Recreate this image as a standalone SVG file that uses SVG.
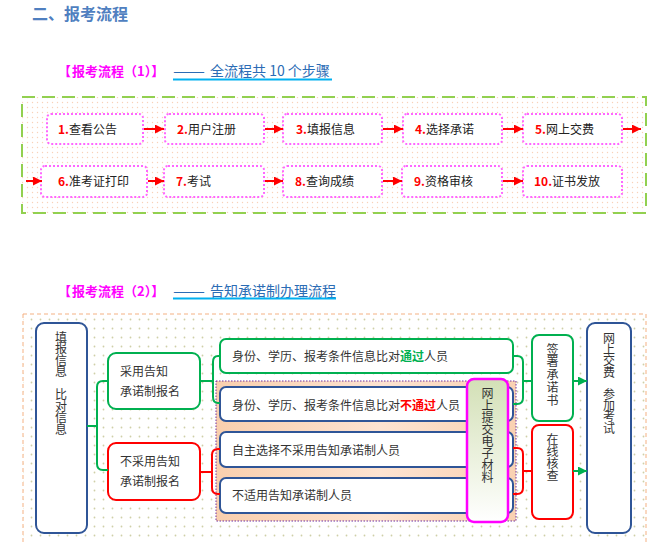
<svg xmlns="http://www.w3.org/2000/svg" width="670" height="543" viewBox="0 0 670 543">
<defs>
  <pattern id="dotsA" width="5" height="5" patternUnits="userSpaceOnUse">
    <rect width="5" height="5" fill="#ffffff"/>
    <circle cx="2.5" cy="2.5" r="0.7" fill="#f9d2b8"/>
  </pattern>
  <pattern id="dotsB" width="9" height="9" patternUnits="userSpaceOnUse">
    <rect width="9" height="9" fill="#ffffff"/>
    <circle cx="4.5" cy="4.5" r="0.9" fill="#cfcfa8"/>
  </pattern>
  <linearGradient id="peach" x1="0" y1="0" x2="1" y2="0">
    <stop offset="0" stop-color="#f9cfae"/>
    <stop offset="0.55" stop-color="#fde3d1"/>
    <stop offset="1" stop-color="#f9d1b2"/>
  </linearGradient>
  <linearGradient id="mag" x1="0" y1="0" x2="0" y2="1">
    <stop offset="0" stop-color="#d3e0b6"/>
    <stop offset="1" stop-color="#ffffff"/>
  </linearGradient>
  <marker id="ar" markerUnits="userSpaceOnUse" markerWidth="9" markerHeight="9" refX="9" refY="4.5" orient="auto">
    <path d="M0,0 L9,4.5 L0,9 z" fill="#ff0000"/>
  </marker>
  <marker id="ag" markerUnits="userSpaceOnUse" markerWidth="9" markerHeight="9" refX="9" refY="4.5" orient="auto">
    <path d="M0,0 L9,4.5 L0,9 z" fill="#00b050"/>
  </marker>
</defs>
<style>
  text { font-family: "Noto Sans CJK SC", "Noto Sans", sans-serif; }
  .step { fill: #ffffff; stroke: #ff66ff; stroke-width: 2; stroke-dasharray: 2 2; }
  .st { font-size: 12px; fill: #222222; }
  .num { fill: #ff0000; font-weight: bold; }
  .ra { stroke: #ff0000; stroke-width: 2; fill: none; marker-end: url(#ar); }
  .t2 { font-size: 12px; fill: #333333; }
  .vt { font-size: 12px; fill: #333333; writing-mode: vertical-rl; }
  .bb { fill: #ffffff; stroke: #2f5597; stroke-width: 2; }
  .gb { fill: #ffffff; stroke: #00b050; stroke-width: 2; }
  .rb { fill: #ffffff; stroke: #ff0000; stroke-width: 2; }
  .hd { font-size: 13px; font-weight: bold; fill: #ff00ff; }
  .lk { font-size: 14px; fill: #2b6cb5; }
</style>

<!-- Heading -->
<text x="32" y="20" font-size="16" font-weight="bold" fill="#4f7fc0">二、报考流程</text>

<!-- Section 1 title -->
<g id="title1">
  <text class="hd" x="58" y="76">【</text>
  <text class="hd" x="72" y="76">报考流程</text>
  <text class="hd" x="124" y="76">（1）】</text>
  <text class="lk" x="173" y="76" textLength="32" lengthAdjust="spacingAndGlyphs">——</text>
  <text class="lk" x="210" y="76">全流程共 10 个步骤</text>
  <line x1="173" y1="79.5" x2="332" y2="79.5" stroke="#00b0f0" stroke-width="2"/>
</g>

<!-- Section 1 frame -->
<rect x="22" y="97" width="624" height="116" fill="url(#dotsA)" stroke="#92d050" stroke-width="2" stroke-dasharray="13 7"/>

<g id="s1">
  <g id="step1"><rect class="step" x="47" y="114" width="96" height="30" rx="4"/><text class="st" x="58" y="133.5"><tspan class="num">1.</tspan>查看公告</text></g>
  <g id="step2"><rect class="step" x="165" y="114" width="99" height="30" rx="4"/><text class="st" x="177" y="133.5"><tspan class="num">2.</tspan>用户注册</text></g>
  <g id="step3"><rect class="step" x="283" y="114" width="99" height="30" rx="4"/><text class="st" x="296" y="133.5"><tspan class="num">3.</tspan>填报信息</text></g>
  <g id="step4"><rect class="step" x="403" y="114" width="99" height="30" rx="4"/><text class="st" x="415" y="133.5"><tspan class="num">4.</tspan>选择承诺</text></g>
  <g id="step5"><rect class="step" x="523" y="114" width="99" height="30" rx="4"/><text class="st" x="535" y="133.5"><tspan class="num">5.</tspan>网上交费</text></g>
  <g id="step6"><rect class="step" x="41" y="166" width="106" height="31" rx="4"/><text class="st" x="58" y="185.5"><tspan class="num">6.</tspan>准考证打印</text></g>
  <g id="step7"><rect class="step" x="164" y="166" width="100" height="31" rx="4"/><text class="st" x="176" y="185.5"><tspan class="num">7.</tspan>考试</text></g>
  <g id="step8"><rect class="step" x="283" y="166" width="99" height="31" rx="4"/><text class="st" x="295" y="185.5"><tspan class="num">8.</tspan>查询成绩</text></g>
  <g id="step9"><rect class="step" x="402" y="166" width="100" height="31" rx="4"/><text class="st" x="414" y="185.5"><tspan class="num">9.</tspan>资格审核</text></g>
  <g id="step10"><rect class="step" x="523" y="166" width="99" height="31" rx="4"/><text class="st" x="534" y="185.5"><tspan class="num">10.</tspan>证书发放</text></g>
</g>

<g id="s1-connectors">
  <line class="ra" x1="144" y1="129" x2="164" y2="129"/>
  <line class="ra" x1="265" y1="129" x2="283" y2="129"/>
  <line class="ra" x1="383" y1="129" x2="403" y2="129"/>
  <line class="ra" x1="503" y1="129" x2="523" y2="129"/>
  <line class="ra" x1="623" y1="129" x2="641" y2="129"/>
  <line class="ra" x1="26" y1="181" x2="42" y2="181"/>
  <line class="ra" x1="148" y1="181" x2="164" y2="181"/>
  <line class="ra" x1="265" y1="181" x2="283" y2="181"/>
  <line class="ra" x1="383" y1="181" x2="402" y2="181"/>
  <line class="ra" x1="503" y1="181" x2="523" y2="181"/>
</g>

<!-- Section 2 title -->
<g id="title2">
  <text class="hd" x="58" y="295.5">【</text>
  <text class="hd" x="72" y="295.5">报考流程</text>
  <text class="hd" x="124" y="295.5">（2）】</text>
  <text class="lk" x="173" y="295.5" textLength="32" lengthAdjust="spacingAndGlyphs">——</text>
  <text class="lk" x="210" y="295.5">告知承诺制办理流程</text>
  <line x1="173" y1="298.5" x2="336" y2="298.5" stroke="#00b0f0" stroke-width="2"/>
</g>

<!-- Section 2 background -->
<rect x="23" y="314" width="623" height="240" fill="url(#dotsB)" stroke="#f4b183" stroke-width="1" stroke-dasharray="4 3"/>

<g id="s2">
  <g id="fill-info">
    <rect class="bb" x="36" y="323" width="51" height="210" rx="8"/>
    <text class="vt" x="61" y="331" letter-spacing="-0.5">填报信息　比对信息</text>
  </g>
  <g id="adopt">
    <rect class="gb" x="108" y="353" width="92" height="56" rx="8"/>
    <text class="t2" x="120" y="376">采用告知</text>
    <text class="t2" x="120" y="395.5">承诺制报名</text>
  </g>
  <g id="not-adopt">
    <rect class="rb" x="108" y="443" width="92" height="57" rx="8"/>
    <text class="t2" x="120" y="466">不采用告知</text>
    <text class="t2" x="120" y="486">承诺制报名</text>
  </g>
  <g id="pass">
    <rect class="gb" x="220" y="339" width="293" height="34" rx="6"/>
    <text class="t2" x="232" y="361">身份、学历、报考条件信息比对<tspan fill="#00b050" font-weight="bold">通过</tspan>人员</text>
  </g>
  <rect x="216" y="381" width="300" height="140" fill="url(#peach)" stroke="#7030a0" stroke-width="1" stroke-dasharray="1.5 1.5"/>
  <g id="fail">
    <rect class="bb" x="220" y="387" width="293" height="34" rx="6"/>
    <text class="t2" x="232" y="410">身份、学历、报考条件信息比对<tspan fill="#ff0000" font-weight="bold">不通过</tspan>人员</text>
  </g>
  <g id="self-choice">
    <rect class="bb" x="220" y="432" width="293" height="35" rx="6"/>
    <text class="t2" x="232" y="454.5">自主选择不采用告知承诺制人员</text>
  </g>
  <g id="not-apply">
    <rect class="bb" x="220" y="478" width="293" height="35" rx="6"/>
    <text class="t2" x="232" y="500">不适用告知承诺制人员</text>
  </g>
  <g id="submit">
    <rect x="467" y="379" width="41" height="143" rx="7" fill="url(#mag)" stroke="#ff00ff" stroke-width="2.5"/>
    <text class="vt" x="487.5" y="387.5">网上提交电子材料</text>
  </g>
  <g id="sign">
    <rect class="gb" x="532" y="335" width="41" height="86" rx="7"/>
    <text class="vt" x="552.5" y="343" letter-spacing="0.9">签署承诺书</text>
  </g>
  <g id="verify">
    <rect class="rb" x="532" y="425" width="41" height="94" rx="7"/>
    <text class="vt" x="552.5" y="433.5">在线核查</text>
  </g>
  <g id="pay-exam">
    <rect class="bb" x="587" y="323" width="44" height="210" rx="8"/>
    <text class="vt" x="609" y="332.5" letter-spacing="-0.8">网上交费　参加考试</text>
  </g>
</g>

<g id="s2-connectors" fill="none" stroke-width="2">
  <path d="M108,381 H103 Q97,381 97,387 V464 Q97,470 103,470 H108 M87,426 H97" stroke="#00b050"/>
  <path d="M220,356 H218 Q213,356 213,362 V397 Q213,403 218,403 H220 M200,381 H213" stroke="#00b050"/>
  <path d="M220,449 H218 Q212,449 212,455 V488 Q212,494 218,494 H220 M200,472 H212" stroke="#ff0000"/>
  <path d="M513,356 H517 Q523,356 523,362 V398 Q523,404 517,404 H513 M523,381 H532" stroke="#00b050"/>
  <path d="M513,448 H517 Q523,448 523,454 V488 Q523,494 517,494 H513 M523,471 H532" stroke="#ff0000"/>
  <line x1="573" y1="381" x2="587" y2="381" stroke="#00b050" marker-end="url(#ag)"/>
  <line x1="573" y1="471" x2="587" y2="471" stroke="#00b050" marker-end="url(#ag)"/>
</g>
</svg>
